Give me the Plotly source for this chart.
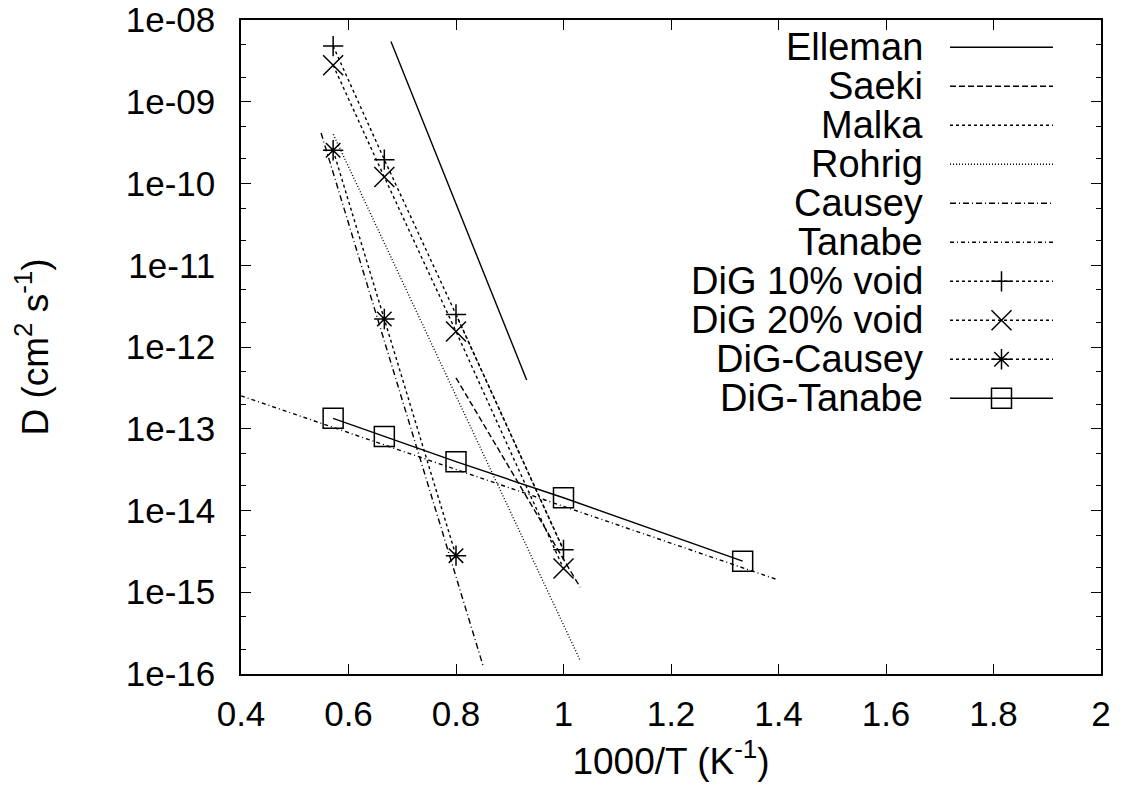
import plotly.graph_objects as go

# ---------------- data ----------------
# 1000/T values of the simulated (DiG) points: T = 1750, 1500, 1250, 1000, 750 K
temps_K = [1750, 1500, 1250, 1000, 750]
x_dig = [1000.0 / t for t in temps_K]

# literature Arrhenius fits (end points of each straight line)
x_elleman = [0.679, 0.9315]
y_elleman = [5.47e-9, 3.94e-13]

x_saeki = [0.800, 1.031]
y_saeki = [4.2e-13, 1.15e-15]

x_malka = [0.800, 1.000]
y_malka = [2.5e-12, 3.3e-15]

x_rohrig = [0.5717, 1.0307]
y_rohrig = [4.0e-10, 1.48e-16]

x_causey = [0.549, 0.851]
y_causey = [4.15e-10, 1.22e-16]

x_tanabe = [0.400, 1.3985]
y_tanabe = [2.53e-13, 1.42e-15]

# DiG simulation results
y_dig10 = [4.8e-9, 1.96e-10, 2.5e-12, 3.3e-15]
y_dig20 = [2.8e-9, 1.2e-10, 1.55e-12, 1.95e-15]
y_dig_causey = [2.55e-10, 2.2e-12, 2.8e-15]
y_dig_tanabe = [1.34e-13, 8.05e-14, 3.95e-14, 1.43e-14, 2.4e-15]

# axis ticks
x_ticks = [0.4, 0.6, 0.8, 1.0, 1.2, 1.4, 1.6, 1.8, 2.0]
y_tickvals = [1e-8, 1e-9, 1e-10, 1e-11, 1e-12, 1e-13, 1e-14, 1e-15, 1e-16]
y_ticktext = ["1e-08", "1e-09", "1e-10", "1e-11", "1e-12",
              "1e-13", "1e-14", "1e-15", "1e-16"]

# ---------------- styles ----------------
FONT = "Liberation Sans"
TICK_FS = 35
KEY_FS = 38
LW = 1.4
series = [
    dict(name="Elleman", x=x_elleman, y=y_elleman, dash="solid", symbol=None, size=0),
    dict(name="Saeki", x=x_saeki, y=y_saeki, dash="6px,3px", symbol=None, size=0),
    dict(name="Malka", x=x_malka, y=y_malka, dash="3px,3px", symbol=None, size=0),
    dict(name="Rohrig", x=x_rohrig, y=y_rohrig, dash="1px,2px", symbol=None, size=0),
    dict(name="Causey", x=x_causey, y=y_causey, dash="6px,3px,1px,3px", symbol=None, size=0),
    dict(name="Tanabe", x=x_tanabe, y=y_tanabe, dash="4px,3px,1px,3px", symbol=None, size=0),
    dict(name="DiG 10% void", x=x_dig[:4], y=y_dig10, dash="3px,3px", symbol="cross-thin", size=14.5),
    dict(name="DiG 20% void", x=x_dig[:4], y=y_dig20, dash="3px,3px", symbol="x-thin", size=20),
    dict(name="DiG-Causey", x=x_dig[:3], y=y_dig_causey, dash="3px,3px", symbol="asterisk", size=17),
    dict(name="DiG-Tanabe", x=x_dig, y=y_dig_tanabe, dash="solid", symbol="square-open", size=20),
]


def marker_style(s):
    return dict(symbol=s["symbol"], size=s["size"], color="black",
                line=dict(color="black", width=1.5))


fig = go.Figure()
for s in series:
    mode = "lines+markers" if s["symbol"] else "lines"
    fig.add_trace(go.Scatter(
        x=s["x"], y=s["y"], mode=mode, name=s["name"], showlegend=False,
        line=dict(color="black", width=LW, dash=s["dash"]),
        marker=marker_style(s) if s["symbol"] else None,
        hoverinfo="skip", xaxis="x", yaxis="y"))

# ---------------- custom gnuplot-style key (text right, sample right of it) ----------------
PLOT_L, PLOT_R, PLOT_T, PLOT_B = 241, 1101, 20, 674
key_text_x = 925
key_line_x0, key_line_x1 = 950, 1053
key_marker_x = (key_line_x0 + key_line_x1) / 2
key_row0, key_step = 47.3, 39.0

annotations = []
for i, s in enumerate(series):
    yr = key_row0 + i * key_step
    fig.add_trace(go.Scatter(
        x=[key_line_x0, key_line_x1], y=[yr, yr], mode="lines", showlegend=False,
        line=dict(color="black", width=LW, dash=s["dash"]), hoverinfo="skip",
        xaxis="x2", yaxis="y2"))
    if s["symbol"]:
        fig.add_trace(go.Scatter(
            x=[key_marker_x], y=[yr], mode="markers", showlegend=False,
            marker=marker_style(s), hoverinfo="skip", xaxis="x2", yaxis="y2"))
    annotations.append(dict(
        x=key_text_x, y=yr, xref="x2", yref="y2", text=s["name"], showarrow=False,
        xanchor="right", yanchor="middle",
        font=dict(family=FONT, size=KEY_FS, color="black")))

fig.update_layout(
    width=1125, height=800,
    margin=dict(l=PLOT_L, r=1125 - PLOT_R, t=PLOT_T, b=800 - PLOT_B),
    paper_bgcolor="white", plot_bgcolor="white",
    font=dict(family=FONT, size=TICK_FS, color="black"),
    showlegend=False,
    annotations=annotations,
    xaxis=dict(
        range=[0.4, 2.0], tickvals=x_ticks, ticks="inside", ticklen=10, tickwidth=1.3,
        tickcolor="black", showline=True, linecolor="black", linewidth=1.5,
        mirror="allticks", showgrid=False, zeroline=False, ticklabeloverflow="allow",
        automargin=False,
        tickfont=dict(family=FONT, size=TICK_FS), ticklabelstandoff=8,
        title=dict(text="1000/T (K<sup>-1</sup>)", standoff=16,
                   font=dict(family=FONT, size=37))),
    yaxis=dict(
        type="log", range=[-16.0005, -7.9995], tickvals=y_tickvals, ticktext=y_ticktext,
        ticks="inside", ticklen=10, tickwidth=1.3, tickcolor="black",
        minor=dict(ticks="inside", ticklen=5, dtick="D2", tickcolor="black", tickwidth=1.3,
                   showgrid=False),
        showline=True, linecolor="black", linewidth=1.5, mirror="allticks",
        showgrid=False, zeroline=False, ticklabeloverflow="allow", automargin=False,
        tickfont=dict(family=FONT, size=TICK_FS), ticklabelstandoff=17,
        title=dict(text="D (cm<sup>2</sup> s<sup>-1</sup>)", standoff=66,
                   font=dict(family=FONT, size=37))),
    xaxis2=dict(range=[PLOT_L, PLOT_R], overlaying="x", anchor="y2", visible=False,
                fixedrange=True),
    yaxis2=dict(range=[PLOT_B, PLOT_T], overlaying="y", anchor="x2", visible=False,
                fixedrange=True),
)

fig.write_html("out.html")
